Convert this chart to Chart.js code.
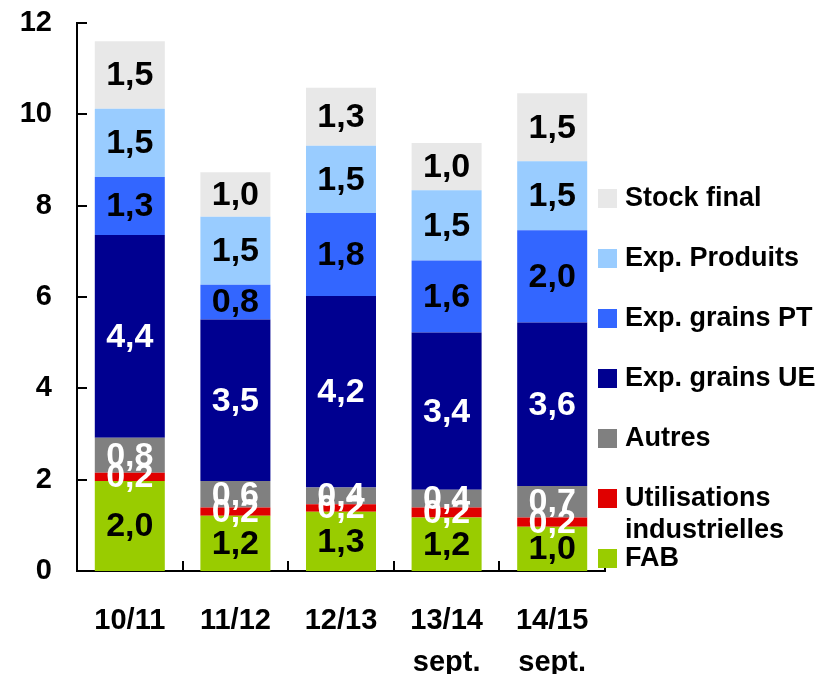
<!DOCTYPE html>
<html>
<head>
<meta charset="utf-8">
<script src="https://cdn.jsdelivr.net/npm/chart.js@4/dist/chart.umd.min.js"></script>
<style>
  html, body { margin: 0; padding: 0; background: #fff; }
  #wrap { width: 829px; height: 674px; }
</style>
</head>
<body>
<div id="wrap"><canvas id="bilanChart"></canvas></div>
<script>
const campagnes = [['10/11'], ['11/12'], ['12/13'], ['13/14', 'sept.'], ['14/15', 'sept.']];
const fab = [1.97, 1.21, 1.30, 1.17, 0.97];
const utilIndus = [0.18, 0.18, 0.16, 0.22, 0.20];
const autres = [0.77, 0.58, 0.37, 0.39, 0.69];
const expGrainsUE = [4.44, 3.54, 4.19, 3.44, 3.58];
const expGrainsPT = [1.27, 0.76, 1.82, 1.58, 2.02];
const expProduits = [1.49, 1.49, 1.47, 1.54, 1.51];
const stockFinal = [1.48, 0.97, 1.27, 1.03, 1.49];
const yTicks = [0, 2, 4, 6, 8, 10, 12];

const FONT = "'Liberation Sans', Arial, sans-serif";

const series = [
    { label: 'FAB', data: fab, color: '#99CC00', text: '#000' },
    { label: 'Utilisations industrielles', data: utilIndus, color: '#E00000', text: '#fff', legendLines: ['Utilisations', 'industrielles'] },
    { label: 'Autres', data: autres, color: '#808080', text: '#fff' },
    { label: 'Exp. grains UE', data: expGrainsUE, color: '#000090', text: '#fff' },
    { label: 'Exp. grains PT', data: expGrainsPT, color: '#3366FF', text: '#000' },
    { label: 'Exp. Produits', data: expProduits, color: '#99CCFF', text: '#000' },
    { label: 'Stock final', data: stockFinal, color: '#E8E8E8', text: '#000' },
];

// values inside the segments
const valueLabels = {
    id: 'valueLabels',
    afterDatasetsDraw(chart) {
        const ctx = chart.ctx;
        ctx.save();
        ctx.font = 'bold 34px ' + FONT;
        ctx.textAlign = 'center';
        ctx.textBaseline = 'middle';
        chart.data.datasets.forEach((ds, i) => {
            const meta = chart.getDatasetMeta(i);
            ctx.fillStyle = series[i].text;
            meta.data.forEach((bar, j) => {
                const txt = ds.data[j].toFixed(1).replace('.', ',');
                ctx.fillText(txt, bar.x, (bar.y + bar.base) / 2 + 1);
            });
        });
        ctx.restore();
    }
};

// inward tick marks + legend on the right
const decorations = {
    id: 'decorations',
    afterDraw(chart) {
        const ctx = chart.ctx;
        const area = chart.chartArea;
        const yScale = chart.scales.y;
        const xScale = chart.scales.x;
        ctx.save();
        ctx.strokeStyle = '#000';
        ctx.lineWidth = 2;
        ctx.beginPath();
        yTicks.forEach(v => {
            const py = Math.round(yScale.getPixelForValue(v));
            ctx.moveTo(area.left, py);
            ctx.lineTo(area.left + 10, py);
        });
        const step = (area.right - area.left) / campagnes.length;
        for (let i = 1; i <= campagnes.length; i++) {
            const px = Math.round(xScale.getPixelForValue(i - 1) + step / 2);
            ctx.moveTo(px, area.bottom);
            ctx.lineTo(px, area.bottom - 10);
        }
        ctx.stroke();

        // legend
        ctx.font = 'bold 27px ' + FONT;
        ctx.textAlign = 'left';
        ctx.textBaseline = 'middle';
        const lx = area.right - 7;
        let ly = 198;
        for (let i = series.length - 1; i >= 0; i--) {
            const s = series[i];
            ctx.fillStyle = s.color;
            ctx.fillRect(lx, ly - 9, 19, 19);
            ctx.fillStyle = '#000';
            const lines = s.legendLines || [s.label];
            lines.forEach((t, k) => ctx.fillText(t, lx + 27, ly + 1 + k * 32));
            ly += 60;
        }
        ctx.restore();
    }
};

const ctx = document.getElementById('bilanChart').getContext('2d');
const bilanChart = new Chart(ctx, {
    type: 'bar',
    data: {
        labels: campagnes,
        datasets: series.map(s => ({
            label: s.label,
            data: s.data,
            backgroundColor: s.color,
            borderWidth: 0,
            barPercentage: 0.663,
            categoryPercentage: 1,
        })),
    },
    options: {
        responsive: true,
        maintainAspectRatio: false,
        animation: false,
        layout: { padding: { top: 23, right: 224, left: 0, bottom: 0 } },
        plugins: {
            legend: { display: false },
            tooltip: { enabled: false },
        },
        scales: {
            x: {
                stacked: true,
                grid: { display: false, drawTicks: false },
                border: { display: true, color: '#000', width: 2 },
                ticks: {
                    color: '#000',
                    padding: 29,
                    maxRotation: 0,
                    font: { family: FONT, size: 29, weight: 'bold', lineHeight: 1.45 },
                },
                afterFit(scale) { scale.height = 103; },
            },
            y: {
                stacked: true,
                min: 0,
                max: 12,
                grid: { display: false, drawTicks: false },
                border: { display: true, color: '#000', width: 2 },
                ticks: {
                    stepSize: 2,
                    color: '#000',
                    padding: 25,
                    font: { family: FONT, size: 29, weight: 'bold' },
                },
                afterFit(scale) {
                    scale.width = 77;
                    scale.paddingTop = 0;
                    scale.paddingBottom = 0;
                },
            },
        },
    },
    plugins: [valueLabels, decorations],
});
</script>
</body>
</html>
